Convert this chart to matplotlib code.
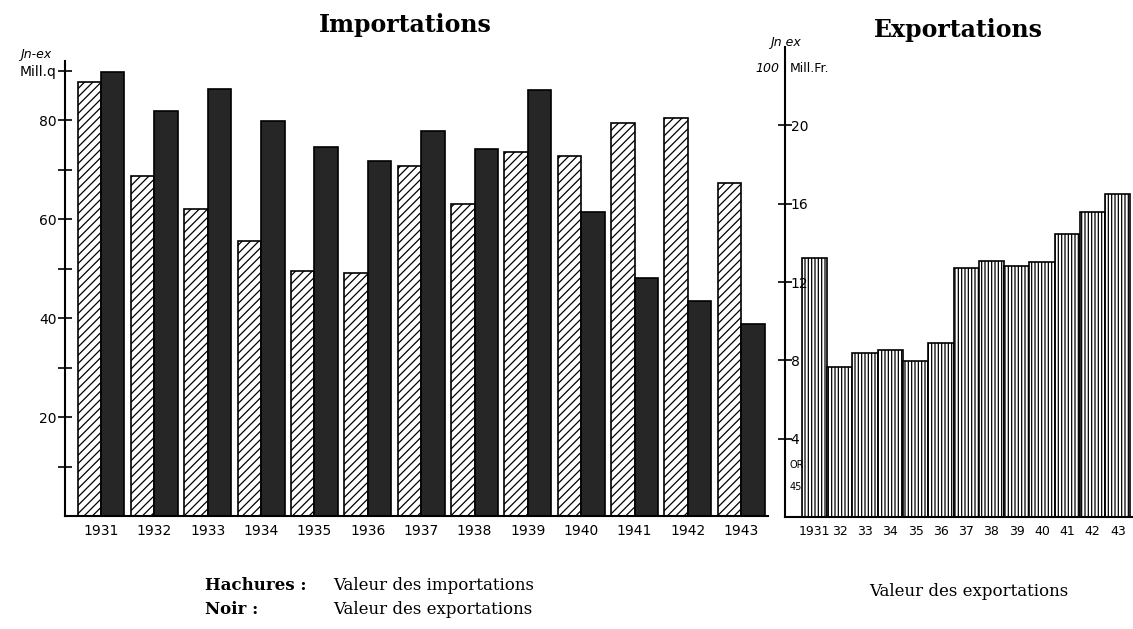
import matplotlib
matplotlib.use("Agg")
import matplotlib.pyplot as plt
import numpy as np

years = ["1931", "1932", "1933", "1934", "1935", "1936", "1937",
         "1938", "1939", "1940", "1941", "1942", "1943"]
short_years = ["1931", "32", "33", "34", "35", "36", "37",
               "38", "39", "40", "41", "42", "43"]
# Left chart, in millions of quintals (Mill.q)
imports_q = [87.7, 68.8, 62.1, 55.7, 49.5, 49.1, 70.8, 63.1, 73.7, 72.8, 79.4, 80.5, 67.3]
exports_q = [89.7, 81.8, 86.3, 79.9, 74.7, 71.8, 77.9, 74.3, 86.1, 61.4, 48.1, 43.5, 38.8]
# Right chart, in 100 Mill. Fr.
exports_value = [13.25, 7.67, 8.38, 8.52, 7.98, 8.86, 12.69, 13.05, 12.8, 13.0, 14.47, 15.55, 16.5]

left_yticks = [10, 20, 30, 40, 50, 60, 70, 80, 90]
left_ylabels = ["", "20", "", "40", "", "60", "", "80", "Mill.q"]
right_yticks = [4, 8, 12, 16, 20]

W, H = 1133, 629
fig = plt.figure(figsize=(W / 100, H / 100), dpi=100)
fig.patch.set_facecolor("white")
plt.rcParams["hatch.linewidth"] = 0.9


def px_axes(x0, y0_top, x1, y1_bottom):
    return fig.add_axes([x0 / W, (H - y1_bottom) / H, (x1 - x0) / W, (y1_bottom - y0_top) / H])


# ---------------- Left chart ----------------
ax = px_axes(65, 61, 768, 516)
x = np.arange(len(years))
bw = 0.44
ax.bar(x - bw / 2, imports_q, width=bw, facecolor="white", edgecolor="black",
       hatch="////", linewidth=1.2)
ax.bar(x + bw / 2, exports_q, width=bw, facecolor="#262626", edgecolor="black",
       linewidth=1.2)
ax.set_xlim(-0.675, 12.5)
ax.set_ylim(0, 92)
for s in ["top", "right"]:
    ax.spines[s].set_visible(False)
ax.spines["left"].set_linewidth(1.5)
ax.spines["bottom"].set_linewidth(1.5)
ax.set_yticks(left_yticks)
ax.set_yticklabels(left_ylabels, fontsize=10)
ax.tick_params(axis="y", direction="inout", length=10, width=1.2, pad=1)
ax.set_xticks(x)
ax.set_xticklabels(years, fontsize=10)
ax.tick_params(axis="x", length=0, pad=6)
ax.text(-0.02, 1.0, "Jn-ex", transform=ax.transAxes, ha="right", va="bottom",
        fontsize=9, style="italic")
fig.text(405 / W, 1 - 25 / H, "Importations", ha="center", va="center",
         fontsize=17, fontweight="bold", family="DejaVu Serif")

# ---------------- Right chart ----------------
ax2 = px_axes(785, 47, 1133, 517)
ax2.bar(x, exports_value, width=1.0, facecolor="white", edgecolor="black",
        hatch="|||||", linewidth=1.2)
ax2.set_xlim(-1.17, 12.6)
ax2.set_ylim(0, 24)
for s in ["top", "right"]:
    ax2.spines[s].set_visible(False)
ax2.spines["left"].set_linewidth(1.5)
ax2.spines["bottom"].set_linewidth(1.5)
ax2.set_yticks(right_yticks)
ax2.set_yticklabels([str(v) for v in right_yticks], fontsize=10)
ax2.tick_params(axis="y", direction="inout", length=10, width=1.2, pad=-9)
for lbl in ax2.get_yticklabels():
    lbl.set_ha("left")
ax2.set_xticks(x)
ax2.set_xticklabels(short_years, fontsize=9)
ax2.tick_params(axis="x", length=0, pad=6)
ax2.text(0.0, 0.995, "Jn ex", transform=ax2.transAxes, ha="center", va="bottom",
         fontsize=9, style="italic")
ax2.text(-0.015, 0.955, "100", transform=ax2.transAxes, ha="right", va="center",
         fontsize=9, style="italic")
ax2.text(0.015, 0.955, "Mill.Fr.", transform=ax2.transAxes, ha="left", va="center",
         fontsize=9)
ax2.text(0.012, 0.11, "OR", transform=ax2.transAxes, ha="left", va="center",
         fontsize=7)
ax2.text(0.012, 0.064, "45", transform=ax2.transAxes, ha="left", va="center",
         fontsize=7)
fig.text(958 / W, 1 - 30 / H, "Exportations", ha="center", va="center",
         fontsize=17, fontweight="bold", family="DejaVu Serif")

# ---------------- Captions ----------------
fig.text(205 / W, 1 - 586 / H, "Hachures :", ha="left", va="center",
         fontsize=12, fontweight="bold", family="DejaVu Serif")
fig.text(333 / W, 1 - 586 / H, "Valeur des importations", ha="left", va="center",
         fontsize=12, family="DejaVu Serif")
fig.text(205 / W, 1 - 609 / H, "Noir :", ha="left", va="center",
         fontsize=12, fontweight="bold", family="DejaVu Serif")
fig.text(333 / W, 1 - 609 / H, "Valeur des exportations", ha="left", va="center",
         fontsize=12, family="DejaVu Serif")
fig.text(969 / W, 1 - 591 / H, "Valeur des exportations", ha="center", va="center",
         fontsize=12, family="DejaVu Serif")

fig.savefig("out.png", dpi=100, facecolor="white")
